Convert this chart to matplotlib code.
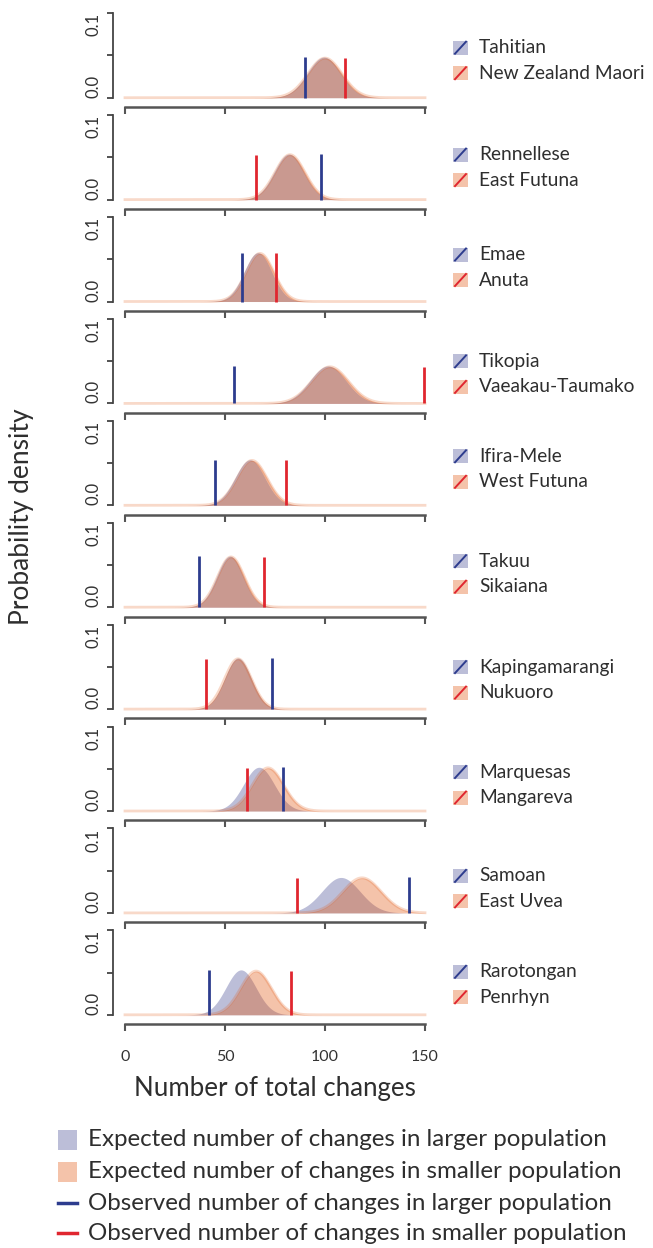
import numpy as np
import matplotlib
matplotlib.use("Agg")
import matplotlib.pyplot as plt
import matplotlib.patches as mpatches

plt.rcParams["font.family"] = ["Lato", "DejaVu Sans"]

# ── Data ─────────────────────────────────────────────────────────────────────
larger = ["Tahitian", "Rennellese", "Emae", "Tikopia", "Ifira-Mele",
          "Takuu", "Kapingamarangi", "Marquesas", "Samoan", "Rarotongan"]
smaller = ["New Zealand Maori", "East Futuna", "Anuta", "Vaeakau-Taumako",
           "West Futuna", "Sikaiana", "Nukuoro", "Mangareva", "East Uvea",
           "Penrhyn"]
# expected distributions (mean, sd of the simulated number of changes)
exp_large_mean = [99.5, 82.0, 66.5, 101.5, 62.5, 52.5, 56.5, 67.0, 108.0, 58.0]
exp_large_sd = [8.3, 7.4, 6.9, 9.0, 7.4, 6.6, 6.6, 7.7, 9.5, 7.5]
exp_small_mean = [100.0, 82.5, 67.5, 102.5, 63.5, 53.0, 56.5, 71.5, 118.5, 65.5]
exp_small_sd = [8.5, 7.5, 7.0, 9.2, 7.5, 6.7, 6.7, 7.8, 9.6, 7.7]
# observed number of changes
obs_large = [90, 98, 58.5, 54.5, 45, 37, 73.5, 79, 142, 42]
obs_small = [110, 65.5, 75.5, 149.5, 80.5, 69.5, 40.5, 61, 86, 83]

x_ticks = [0, 50, 100, 150]

# ── Styles ───────────────────────────────────────────────────────────────────
BLUE_FILL = (64 / 255, 69 / 255, 144 / 255, 0.35)
ORANGE_FILL = (226 / 255, 84 / 255, 12 / 255, 0.35)
ORANGE_EDGE = (226 / 255, 84 / 255, 12 / 255, 0.22)
BLUE_LINE = "#2d3c8e"
RED_LINE = "#e0262f"
AXIS_COL = "#444444"
TXT = "#2e2e2e"

W, H = 653, 1248
fig = plt.figure(figsize=(W / 100, H / 100), dpi=100)

# panel geometry in pixels
base0, pitch = 97.7, 101.9
ax_left, ax_right = 113, 437
ax_h = 97.7
leg_off = [-50, -45, -47, -42, -49, -46, -42, -39, -37, -43]

xs = np.linspace(0, 150, 601)


def npdf(x, m, s):
    return np.exp(-0.5 * ((x - m) / s) ** 2) / (s * np.sqrt(2 * np.pi))


axes = []
for i in range(len(larger)):
    base = base0 + pitch * i
    bottom = base + 9.3
    ax = fig.add_axes([ax_left / W, 1 - bottom / H,
                       (ax_right - ax_left) / W, ax_h / H])
    axes.append(ax)
    yb = npdf(xs, exp_large_mean[i], exp_large_sd[i])
    ys = npdf(xs, exp_small_mean[i], exp_small_sd[i])
    ax.fill_between(xs, 0, yb, color=BLUE_FILL, lw=0, zorder=2)
    ax.fill_between(xs, 0, ys, color=ORANGE_FILL, lw=0, zorder=3)
    ax.plot(xs, ys, color=ORANGE_EDGE, lw=2, zorder=3)
    ax.vlines(obs_large[i], 0, yb.max(), color=BLUE_LINE, lw=2, zorder=4)
    ax.vlines(obs_small[i], 0, ys.max(), color=RED_LINE, lw=2, zorder=4)

    ax.set_xlim(-6, 156)
    ax.set_ylim(-0.011, 0.1047)
    for side in ("top", "right"):
        ax.spines[side].set_visible(False)
    ax.spines["left"].set_bounds(0, 0.1)
    ax.spines["bottom"].set_bounds(0, 150)
    ax.spines["left"].set_color(AXIS_COL)
    ax.spines["bottom"].set_color("#555555")
    ax.spines["left"].set_linewidth(1.3)
    ax.spines["bottom"].set_linewidth(1.8)
    ax.set_yticks([0, 0.05, 0.1])
    ylabs = ax.set_yticklabels(["0.0", "", "0.1"], rotation=90,
                               fontsize=12, color="#333333")
    ylabs[0].set_va("bottom")
    ylabs[2].set_va("top")
    ax.tick_params(axis="y", length=4, width=1.3, color=AXIS_COL, pad=4)
    ax.set_xticks(x_ticks)
    ax.tick_params(axis="x", length=5, width=1.5, color="#555555", pad=14,
                   labelsize=11.5, labelcolor="#333333")
    if i < len(larger) - 1:
        ax.set_xticklabels([])
    ax.set_facecolor("none")

axes[-1].set_xlabel("Number of total changes", fontsize=18.6, color=TXT,
                    labelpad=8)
fig.text(22 / W, 1 - 517 / H, "Probability density", rotation=90,
         ha="center", va="center", fontsize=19, color=TXT)

# ── Legends (pixel overlay) ──────────────────────────────────────────────────
ov = fig.add_axes([0, 0, 1, 1], zorder=10)
ov.set_xlim(0, W)
ov.set_ylim(H, 0)
ov.axis("off")
ov.patch.set_alpha(0)

for i in range(len(larger)):
    base = base0 + pitch * i
    for j, (name, fc, lc) in enumerate([(larger[i], BLUE_FILL, BLUE_LINE),
                                        (smaller[i], ORANGE_FILL, RED_LINE)]):
        yc = base + leg_off[i] + 25.5 * j
        ov.add_patch(mpatches.Rectangle((453, yc - 7), 15, 14, fc=fc, lw=0))
        ov.plot([455, 466], [yc + 6, yc - 6], color=lc, lw=1.4)
        ov.text(479, yc, name, va="center", ha="left", fontsize=13.8,
                color=TXT)

bottom_leg = [
    ("fill", BLUE_FILL, "Expected number of changes in larger population"),
    ("fill", ORANGE_FILL, "Expected number of changes in smaller population"),
    ("line", BLUE_LINE, "Observed number of changes in larger population"),
    ("line", RED_LINE, "Observed number of changes in smaller population"),
]
for (kind, col, label), yc in zip(bottom_leg, [1140, 1172, 1203, 1233]):
    if kind == "fill":
        ov.add_patch(mpatches.Rectangle((58, yc - 10), 19, 20, fc=col, lw=0))
    else:
        ov.plot([58, 77], [yc, yc], color=col, lw=2.5)
    ov.text(88, yc, label, va="center", ha="left", fontsize=17.4,
            color=TXT)

plt.savefig("out.png", dpi=100)
plt.close()
